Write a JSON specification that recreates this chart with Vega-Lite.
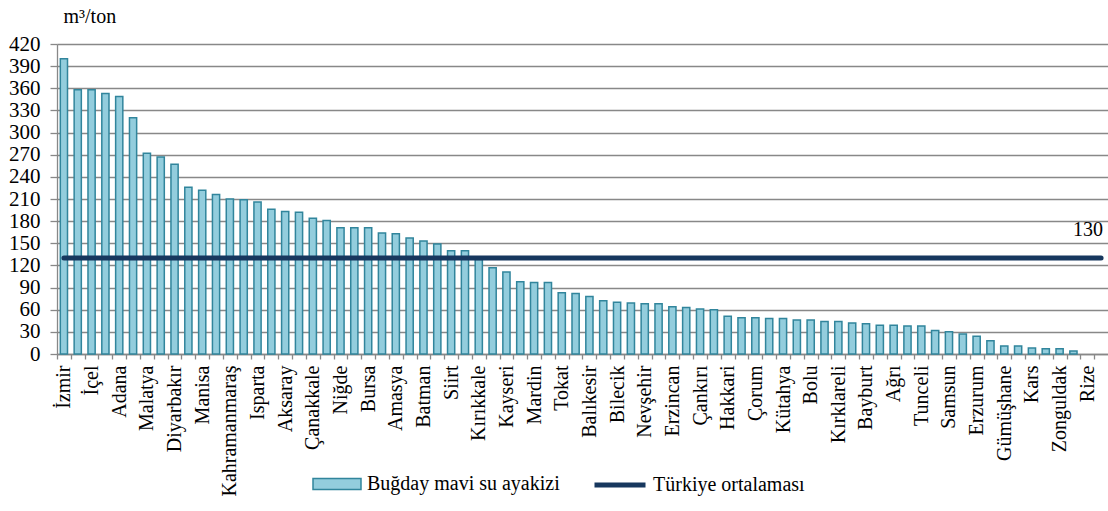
{
  "$schema": "https://vega.github.io/schema/vega-lite/v6.json",
  "width": 1051,
  "height": 310,
  "autosize": {"type": "none"},
  "padding": {"left": 57, "top": 44, "right": 0, "bottom": 157},
  "background": "white",
  "config": {
    "view": {"stroke": null},
    "font": "Liberation Serif",
    "axis": {"labelFont": "Liberation Serif", "titleFont": "Liberation Serif", "labelColor": "black", "titleColor": "black"},
    "legend": {"labelFont": "Liberation Serif", "labelColor": "black"}
  },
  "data": {
    "values": [
      {"il": "İzmir", "deger": 400, "ortalama": 130},
      {"il": "Antalya", "deger": 358, "ortalama": 130},
      {"il": "İçel", "deger": 358, "ortalama": 130},
      {"il": "Aydın", "deger": 353, "ortalama": 130},
      {"il": "Adana", "deger": 349, "ortalama": 130},
      {"il": "Hatay", "deger": 320, "ortalama": 130},
      {"il": "Malatya", "deger": 272, "ortalama": 130},
      {"il": "Şanlıurfa", "deger": 267, "ortalama": 130},
      {"il": "Diyarbakır", "deger": 257, "ortalama": 130},
      {"il": "Gaziantep", "deger": 226, "ortalama": 130},
      {"il": "Manisa", "deger": 222, "ortalama": 130},
      {"il": "Adıyaman", "deger": 216, "ortalama": 130},
      {"il": "Kahramanmaraş", "deger": 210, "ortalama": 130},
      {"il": "Osmaniye", "deger": 209, "ortalama": 130},
      {"il": "Isparta", "deger": 206, "ortalama": 130},
      {"il": "Denizli", "deger": 196, "ortalama": 130},
      {"il": "Aksaray", "deger": 193, "ortalama": 130},
      {"il": "Burdur", "deger": 192, "ortalama": 130},
      {"il": "Çanakkale", "deger": 184, "ortalama": 130},
      {"il": "Kilis", "deger": 181, "ortalama": 130},
      {"il": "Niğde", "deger": 171, "ortalama": 130},
      {"il": "Karaman", "deger": 171, "ortalama": 130},
      {"il": "Bursa", "deger": 171, "ortalama": 130},
      {"il": "Konya", "deger": 164, "ortalama": 130},
      {"il": "Amasya", "deger": 163, "ortalama": 130},
      {"il": "Elazığ", "deger": 157, "ortalama": 130},
      {"il": "Batman", "deger": 153, "ortalama": 130},
      {"il": "Muğla", "deger": 149, "ortalama": 130},
      {"il": "Siirt", "deger": 140, "ortalama": 130},
      {"il": "Şırnak", "deger": 140, "ortalama": 130},
      {"il": "Kırıkkale", "deger": 128, "ortalama": 130},
      {"il": "Afyonkarahisar", "deger": 117, "ortalama": 130},
      {"il": "Kayseri", "deger": 111, "ortalama": 130},
      {"il": "Uşak", "deger": 98, "ortalama": 130},
      {"il": "Mardin", "deger": 97, "ortalama": 130},
      {"il": "Eskişehir", "deger": 97, "ortalama": 130},
      {"il": "Tokat", "deger": 83, "ortalama": 130},
      {"il": "Bitlis", "deger": 82, "ortalama": 130},
      {"il": "Balıkesir", "deger": 78, "ortalama": 130},
      {"il": "Ankara", "deger": 72, "ortalama": 130},
      {"il": "Bilecik", "deger": 70, "ortalama": 130},
      {"il": "Kırşehir", "deger": 69, "ortalama": 130},
      {"il": "Nevşehir", "deger": 68, "ortalama": 130},
      {"il": "Yozgat", "deger": 68, "ortalama": 130},
      {"il": "Erzincan", "deger": 64, "ortalama": 130},
      {"il": "Sivas", "deger": 63, "ortalama": 130},
      {"il": "Çankırı", "deger": 61, "ortalama": 130},
      {"il": "Van", "deger": 60, "ortalama": 130},
      {"il": "Hakkari", "deger": 51, "ortalama": 130},
      {"il": "Muş", "deger": 49, "ortalama": 130},
      {"il": "Çorum", "deger": 49, "ortalama": 130},
      {"il": "Bingöl", "deger": 48, "ortalama": 130},
      {"il": "Kütahya", "deger": 48, "ortalama": 130},
      {"il": "Edirne", "deger": 46, "ortalama": 130},
      {"il": "Bolu", "deger": 46, "ortalama": 130},
      {"il": "Tekirdağ", "deger": 44, "ortalama": 130},
      {"il": "Kırklareli", "deger": 44, "ortalama": 130},
      {"il": "Sakarya", "deger": 42, "ortalama": 130},
      {"il": "Bayburt", "deger": 41, "ortalama": 130},
      {"il": "Kastamonu", "deger": 39, "ortalama": 130},
      {"il": "Ağrı", "deger": 39, "ortalama": 130},
      {"il": "Iğdır", "deger": 38, "ortalama": 130},
      {"il": "Tunceli", "deger": 38, "ortalama": 130},
      {"il": "Ardahan", "deger": 32, "ortalama": 130},
      {"il": "Samsun", "deger": 30, "ortalama": 130},
      {"il": "Karabük", "deger": 27, "ortalama": 130},
      {"il": "Erzurum", "deger": 24, "ortalama": 130},
      {"il": "Sinop", "deger": 18, "ortalama": 130},
      {"il": "Gümüşhane", "deger": 11, "ortalama": 130},
      {"il": "Ordu", "deger": 11, "ortalama": 130},
      {"il": "Kars", "deger": 8, "ortalama": 130},
      {"il": "Bartın", "deger": 7, "ortalama": 130},
      {"il": "Zonguldak", "deger": 7, "ortalama": 130},
      {"il": "Düzce", "deger": 4, "ortalama": 130},
      {"il": "Rize", "deger": 0, "ortalama": 130},
      {"il": "Artvin", "deger": 0, "ortalama": 130}
    ]
  },
  "encoding": {
    "x": {
      "field": "il",
      "type": "nominal",
      "sort": null,
      "scale": {"paddingInner": 0.48, "paddingOuter": 0.24},
      "axis": {
        "title": null,
        "labelAngle": 270,
        "labelFontSize": 20,
        "labelPadding": 6,
        "labelLimit": 300,
        "labelOverlap": false,
        "tickSize": 5,
        "tickOffset": -6.915,
        "labelOffset": 6.915,
        "tickColor": "#888888",
        "domainColor": "#888888",
        "domainWidth": 1.3,
        "tickWidth": 1.3,
        "labelExpr": "indexof(['İzmir','İçel','Adana','Malatya','Diyarbakır','Manisa','Kahramanmaraş','Isparta','Aksaray','Çanakkale','Niğde','Bursa','Amasya','Batman','Siirt','Kırıkkale','Kayseri','Mardin','Tokat','Balıkesir','Bilecik','Nevşehir','Erzincan','Çankırı','Hakkari','Çorum','Kütahya','Bolu','Kırklareli','Bayburt','Ağrı','Tunceli','Samsun','Erzurum','Gümüşhane','Kars','Zonguldak','Rize'], datum.value) >= 0 ? datum.value : ''"
      }
    }
  },
  "layer": [
    {
      "transform": [{"filter": "datum.deger > 0"}],
      "mark": {"type": "bar", "stroke": "#31859C", "strokeWidth": 1.5},
      "encoding": {
        "y": {
          "field": "deger",
          "type": "quantitative",
          "scale": {"domain": [0, 420], "nice": false},
          "axis": {
            "values": [0, 30, 60, 90, 120, 150, 180, 210, 240, 270, 300, 330, 360, 390, 420],
            "labelOverlap": false,
            "grid": true,
            "gridColor": "#888888",
            "gridWidth": 1.3,
            "domainColor": "#888888",
            "domainWidth": 1.3,
            "tickColor": "#888888",
            "tickWidth": 1.3,
            "tickSize": 7,
            "labelPadding": 10,
            "labelFontSize": 21,
            "title": "m³/ton",
            "titleAngle": 0,
            "titleAlign": "left",
            "titleBaseline": "alphabetic",
            "titleX": 6,
            "titleY": -22,
            "titleFontSize": 20,
            "titleFontWeight": "normal"
          }
        },
        "fill": {
          "datum": "Buğday mavi su ayakizi",
          "scale": {"range": ["#93CDDD"]},
          "legend": {
            "orient": "none",
            "legendX": 255,
            "legendY": 415,
            "title": null,
            "padding": 0,
            "symbolType": "M-1,-0.23H1V0.23H-1Z",
            "symbolSize": 2304,
            "symbolStrokeColor": "#31859C",
            "symbolStrokeWidth": 1.5,
            "labelFontSize": 20,
            "labelOffset": 5,
            "labelLimit": 400
          }
        }
      }
    },
    {
      "mark": {"type": "line", "strokeWidth": 5, "strokeCap": "round"},
      "encoding": {
        "y": {
          "field": "ortalama",
          "type": "quantitative",
          "axis": {
            "values": [0, 30, 60, 90, 120, 150, 180, 210, 240, 270, 300, 330, 360, 390, 420],
            "labelOverlap": false,
            "grid": true,
            "gridColor": "#888888",
            "gridWidth": 1.3,
            "domainColor": "#888888",
            "domainWidth": 1.3,
            "tickColor": "#888888",
            "tickWidth": 1.3,
            "tickSize": 7,
            "labelPadding": 10,
            "labelFontSize": 21,
            "title": "m³/ton",
            "titleAngle": 0,
            "titleAlign": "left",
            "titleBaseline": "alphabetic",
            "titleX": 6,
            "titleY": -22,
            "titleFontSize": 20,
            "titleFontWeight": "normal"
          }
        },
        "stroke": {
          "datum": "Türkiye ortalaması",
          "scale": {"range": ["#17375E"]},
          "legend": {
            "orient": "none",
            "legendX": 535,
            "legendY": 413,
            "title": null,
            "padding": 0,
            "symbolType": "stroke",
            "symbolSize": 2601,
            "symbolStrokeWidth": 5,
            "labelFontSize": 20,
            "labelOffset": 5,
            "labelLimit": 400
          }
        }
      }
    },
    {
      "transform": [{"filter": "datum.il === 'Artvin'"}],
      "mark": {"type": "text", "align": "right", "baseline": "middle", "dx": 2, "dy": -28, "fontSize": 20, "font": "Liberation Serif", "color": "black"},
      "encoding": {
        "y": {
          "field": "ortalama",
          "type": "quantitative",
          "axis": {
            "values": [0, 30, 60, 90, 120, 150, 180, 210, 240, 270, 300, 330, 360, 390, 420],
            "labelOverlap": false,
            "grid": true,
            "gridColor": "#888888",
            "gridWidth": 1.3,
            "domainColor": "#888888",
            "domainWidth": 1.3,
            "tickColor": "#888888",
            "tickWidth": 1.3,
            "tickSize": 7,
            "labelPadding": 10,
            "labelFontSize": 21,
            "title": "m³/ton",
            "titleAngle": 0,
            "titleAlign": "left",
            "titleBaseline": "alphabetic",
            "titleX": 6,
            "titleY": -22,
            "titleFontSize": 20,
            "titleFontWeight": "normal"
          }
        },
        "text": {"field": "ortalama", "type": "quantitative"}
      }
    }
  ]
}
